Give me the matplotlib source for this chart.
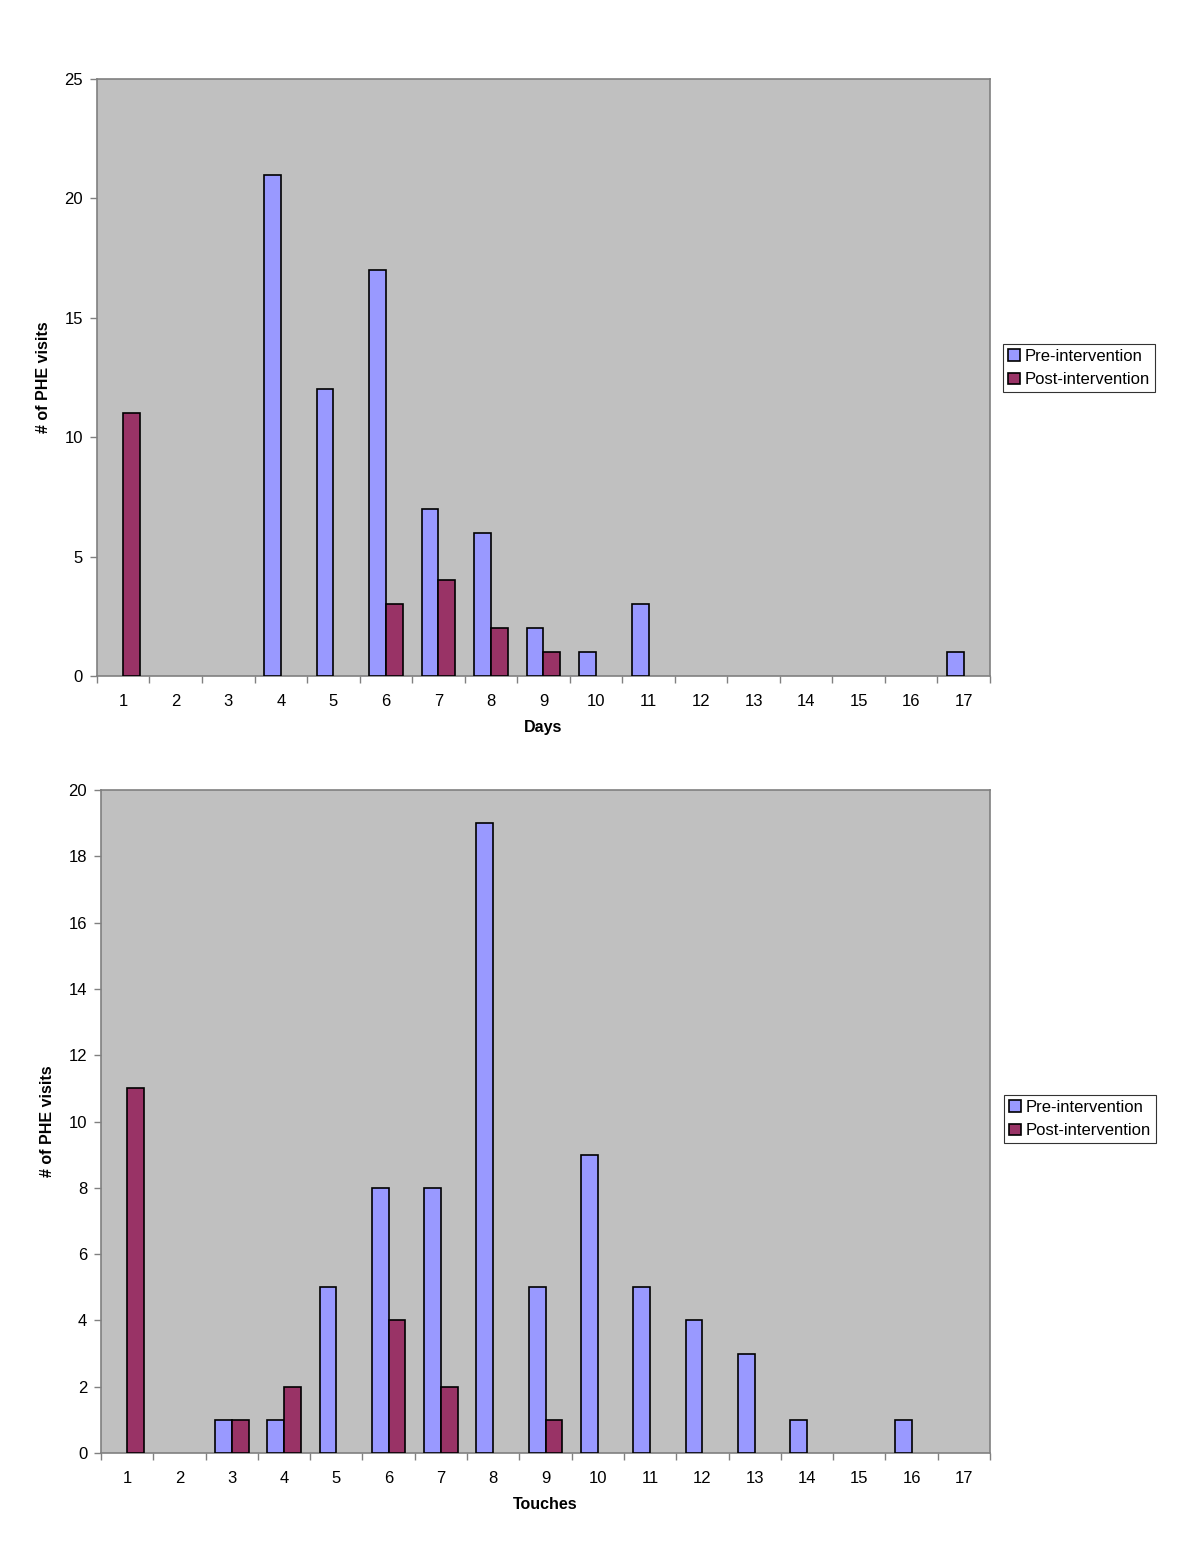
import numpy as np
import matplotlib
matplotlib.use('Agg')
import matplotlib.pyplot as plt

plt.rcParams['font.family'] = ['Liberation Sans', 'DejaVu Sans']

categories = list(range(1, 18))

days_pre = [0, 0, 0, 21, 12, 17, 7, 6, 2, 1, 3, 0, 0, 0, 0, 0, 1]
days_post = [11, 0, 0, 0, 0, 3, 4, 2, 1, 0, 0, 0, 0, 0, 0, 0, 0]

touches_pre = [0, 0, 1, 1, 5, 8, 8, 19, 5, 9, 5, 4, 3, 1, 0, 1, 0]
touches_post = [11, 0, 1, 2, 0, 4, 2, 0, 1, 0, 0, 0, 0, 0, 0, 0, 0]

PRE_COLOR = '#9999FF'
POST_COLOR = '#993366'
BG = '#C0C0C0'
FRAME = '#808080'
BAR_W = 0.32


def draw_panel(ax, pre, post, ymax, ystep, xlabel, legend_anchor):
    x = np.arange(len(categories))
    pre = np.array(pre, dtype=float)
    post = np.array(post, dtype=float)
    ax.set_facecolor(BG)
    # zero-height bars are not drawn in the original
    m1 = pre > 0
    m2 = post > 0
    ax.bar(x[m1] - BAR_W / 2, pre[m1], BAR_W, color=PRE_COLOR, edgecolor='black',
           linewidth=1.2, label='Pre-intervention', zorder=3)
    ax.bar(x[m2] + BAR_W / 2, post[m2], BAR_W, color=POST_COLOR, edgecolor='black',
           linewidth=1.2, label='Post-intervention', zorder=3)
    ax.set_xlim(-0.5, len(categories) - 0.5)
    ax.set_ylim(0, ymax)
    ax.set_yticks(np.arange(0, ymax + 0.1, ystep))
    ax.set_xticks(x)
    ax.set_xticklabels([str(c) for c in categories])
    ax.set_xticks(np.arange(-0.5, len(categories)), minor=True)
    ax.tick_params(axis='x', which='major', length=0, labelsize=12, pad=13)
    ax.tick_params(axis='x', which='minor', length=5, color=FRAME, width=1)
    ax.tick_params(axis='y', length=5, color=FRAME, width=1, labelsize=12, pad=5)
    for s in ax.spines.values():
        s.set_color(FRAME)
        s.set_linewidth(1.2)
    ax.set_xlabel(xlabel, fontsize=11.5, fontweight='bold', labelpad=8)
    ax.set_ylabel('# of PHE visits', fontsize=11.5, fontweight='bold', labelpad=10)
    leg = ax.legend(loc='center left', bbox_to_anchor=legend_anchor,
                    bbox_transform=ax.figure.transFigure, fontsize=12,
                    frameon=True, fancybox=False, handlelength=0.7,
                    handleheight=0.7, handletextpad=0.3, borderpad=0.3,
                    labelspacing=0.5, borderaxespad=0)
    leg.get_frame().set_edgecolor('black')
    leg.get_frame().set_linewidth(0.8)


fig = plt.figure(figsize=(12, 15.44), dpi=100)
ax1 = fig.add_axes([0.0808, 0.5622, 0.825 - 0.0808, 0.9488 - 0.5622])
ax2 = fig.add_axes([0.0842, 0.0589, 0.825 - 0.0842, 0.4883 - 0.0589])

draw_panel(ax1, days_pre, days_post, 25, 5, 'Days', (1003 / 1200, 1 - 368 / 1544))
draw_panel(ax2, touches_pre, touches_post, 20, 2, 'Touches', (1004 / 1200, 1 - 1119 / 1544))

fig.savefig('out.png', dpi=100)
